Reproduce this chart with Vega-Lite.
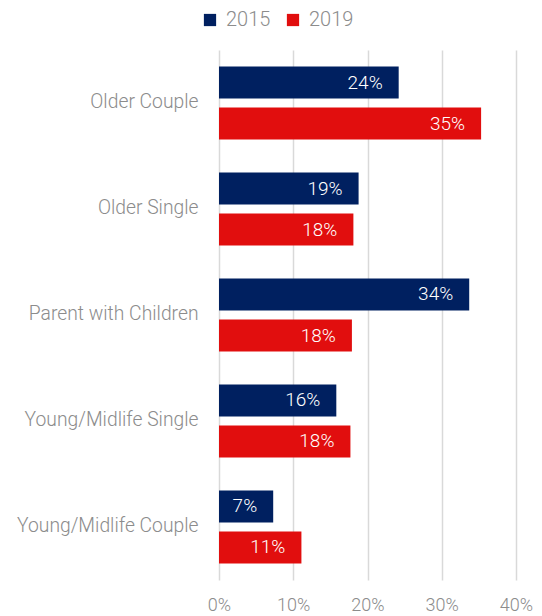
{
  "$schema": "https://vega.github.io/schema/vega-lite/v6.json",
  "autosize": {"type": "none"},
  "width": 297,
  "height": 530,
  "padding": {"left": 219, "top": 50, "right": 26, "bottom": 37},
  "background": "white",
  "config": {
    "view": {"stroke": null},
    "font": "Roboto Light, Roboto"
  },
  "data": {
    "values": [
      {"category": "Older Couple", "year": "2015", "value": 24.2, "label": "24%"},
      {"category": "Older Couple", "year": "2019", "value": 35.3, "label": "35%"},
      {"category": "Older Single", "year": "2015", "value": 18.8, "label": "19%"},
      {"category": "Older Single", "year": "2019", "value": 18.1, "label": "18%"},
      {"category": "Parent with Children", "year": "2015", "value": 33.7, "label": "34%"},
      {"category": "Parent with Children", "year": "2019", "value": 17.9, "label": "18%"},
      {"category": "Young/Midlife Single", "year": "2015", "value": 15.8, "label": "16%"},
      {"category": "Young/Midlife Single", "year": "2019", "value": 17.7, "label": "18%"},
      {"category": "Young/Midlife Couple", "year": "2015", "value": 7.3, "label": "7%"},
      {"category": "Young/Midlife Couple", "year": "2019", "value": 11.1, "label": "11%"}
    ]
  },
  "encoding": {
    "y": {
      "field": "category",
      "type": "nominal",
      "sort": null,
      "scale": {"paddingInner": 0.311, "paddingOuter": 0.156},
      "axis": {
        "title": null,
        "ticks": false,
        "domain": false,
        "labelPadding": 21,
        "labelFontSize": 19.3,
        "labelFont": "Roboto Light, Roboto",
        "labelFontWeight": 300,
        "labelColor": "#8c8c8c",
        "labelOffset": -1,
        "labelLimit": 300
      }
    },
    "yOffset": {
      "field": "year",
      "type": "nominal",
      "sort": ["2015", "2019"],
      "scale": {"paddingInner": 0.22, "paddingOuter": 0}
    },
    "x": {
      "field": "value",
      "type": "quantitative",
      "scale": {"domain": [0, 40], "nice": false},
      "axis": {
        "title": null,
        "values": [0, 10, 20, 30, 40],
        "labelExpr": "datum.value + '%'",
        "ticks": false,
        "domain": false,
        "grid": true,
        "gridColor": "#d9d9d9",
        "gridWidth": 1.5,
        "labelPadding": 16,
        "labelFontSize": 18,
        "labelFont": "Roboto Light, Roboto",
        "labelFontWeight": 300,
        "labelColor": "#8c8c8c",
        "labelFlush": false
      }
    }
  },
  "layer": [
    {
      "mark": {"type": "bar"},
      "encoding": {
        "color": {
          "field": "year",
          "type": "nominal",
          "scale": {"domain": ["2015", "2019"], "range": ["#002060", "#E10E0E"]},
          "legend": {
            "title": null,
            "orient": "none",
            "direction": "horizontal",
            "legendX": -19,
            "legendY": -40,
            "symbolType": "square",
            "symbolSize": 150,
            "symbolStrokeWidth": 0,
            "labelFontSize": 20,
            "labelFont": "Roboto Light, Roboto",
            "labelFontWeight": 300,
            "labelColor": "#8c8c8c",
            "labelOffset": 6,
            "columnPadding": 12
          }
        }
      }
    },
    {
      "mark": {
        "type": "text",
        "align": "right",
        "baseline": "middle",
        "dx": -16,
        "fontSize": 19,
        "font": "Roboto Light, Roboto",
        "fontWeight": 300,
        "color": "white"
      },
      "encoding": {
        "text": {"field": "label"}
      }
    }
  ]
}
